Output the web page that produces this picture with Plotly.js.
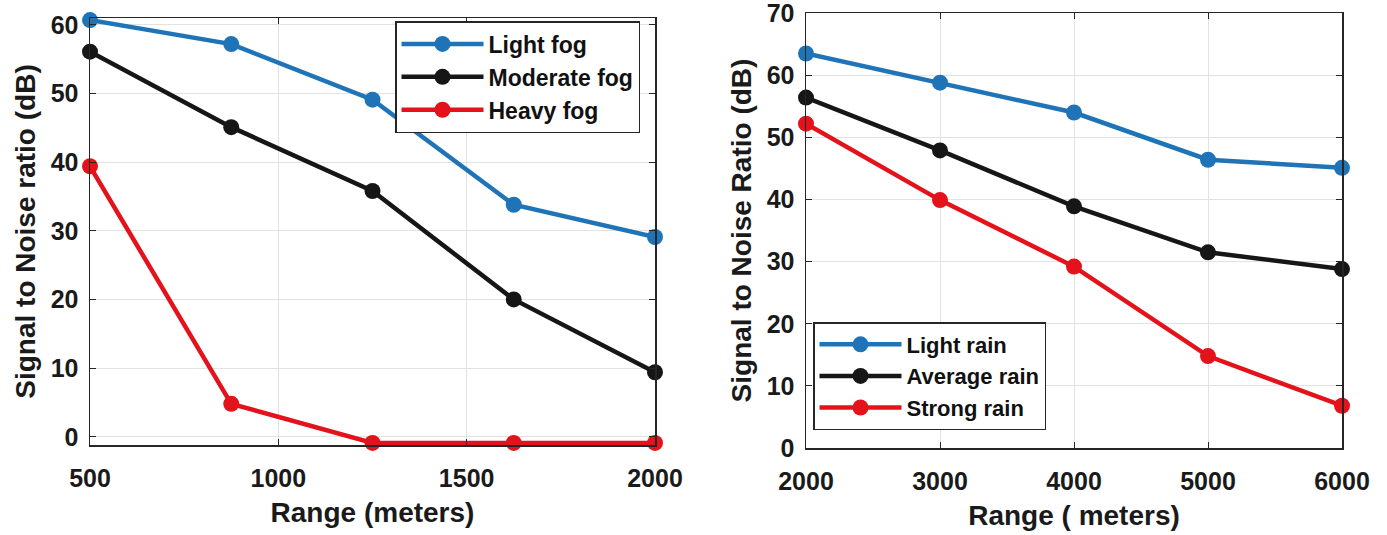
<!DOCTYPE html>
<html>
<head>
<meta charset="utf-8">
<script src="https://cdn.plot.ly/plotly-3.0.1.min.js"></script>
<style>html,body{margin:0;padding:0;background:#fff;}#chart{width:1387px;height:535px;}</style>
</head>
<body>
<div id="chart"></div>
<script>
// Left panel: fog
const fogRange = [500, 875, 1250, 1625, 2000];
const lightFog = [60.7, 57.2, 49.1, 33.8, 29.1];
const moderateFog = [56.1, 45.1, 35.8, 20.0, 9.4];
const heavyFog = [39.4, 4.8, -0.9, -0.9, -0.9];
const fogTicksX = [500, 1000, 1500, 2000];
const fogTicksY = [0, 10, 20, 30, 40, 50, 60];

// Right panel: rain
const rainRange = [2000, 3000, 4000, 5000, 6000];
const lightRain = [63.5, 58.8, 54.0, 46.4, 45.1];
const averageRain = [56.4, 47.9, 38.9, 31.5, 28.8];
const strongRain = [52.2, 39.9, 29.2, 14.8, 6.8];
const rainTicksX = [2000, 3000, 4000, 5000, 6000];
const rainTicksY = [0, 10, 20, 30, 40, 50, 60, 70];

const BLUE = '#1f74b8', BLACK = '#161616', RED = '#e3121b';
const FONT = 'Liberation Sans, Arial, sans-serif';

function tr(x, y, name, color, xa, ya, lg) {
  return {x: x, y: y, name: name, type: 'scatter', mode: 'lines+markers',
    line: {color: color, width: 4.5}, marker: {color: color, size: 16},
    xaxis: xa, yaxis: ya, legend: lg, cliponaxis: false};
}

const data = [
  tr(fogRange, lightFog, 'Light fog', BLUE, 'x', 'y', 'legend'),
  tr(fogRange, moderateFog, 'Moderate fog', BLACK, 'x', 'y', 'legend'),
  tr(fogRange, heavyFog, 'Heavy fog', RED, 'x', 'y', 'legend'),
  tr(rainRange, lightRain, 'Light rain', BLUE, 'x2', 'y2', 'legend2'),
  tr(rainRange, averageRain, 'Average rain', BLACK, 'x2', 'y2', 'legend2'),
  tr(rainRange, strongRain, 'Strong rain', RED, 'x2', 'y2', 'legend2')
];

const W = 1387, H = 535;
function ax(extra) {
  return Object.assign({
    showline: true, mirror: 'ticks', linecolor: '#262626', linewidth: 1.5,
    ticks: 'inside', ticklen: 6, tickcolor: '#262626', tickwidth: 1,
    showgrid: true, gridcolor: '#e2e2e2', gridwidth: 1, zeroline: false,
    automargin: false, ticklabeloverflow: 'allow',
    tickfont: {family: FONT, size: 25, color: '#1a1a1a', weight: 'bold'},
  }, extra);
}
const titleFont = {family: FONT, size: 28, color: '#1a1a1a', weight: 'bold'};

const layout = {
  width: W, height: H,
  margin: {l: 0, r: 0, t: 0, b: 0},
  paper_bgcolor: '#ffffff', plot_bgcolor: '#ffffff',
  showlegend: true,
  xaxis: ax({domain: [90/W, 655/W], range: [500, 2000], tickvals: fogTicksX,
    anchor: 'y', ticklabelstandoff: 10,
    title: {text: 'Range (meters)', font: titleFont, standoff: 12}}),
  yaxis: ax({domain: [1-445/H, 1-18/H], range: [-1.2, 61], tickvals: fogTicksY,
    anchor: 'x', ticklabelstandoff: 5,
    title: {text: 'Signal to Noise ratio (dB)', font: titleFont, standoff: 7}}),
  xaxis2: ax({domain: [806/W, 1342/W], range: [2000, 6000], tickvals: rainTicksX,
    anchor: 'y2', ticklabelstandoff: 10,
    title: {text: 'Range ( meters)', font: titleFont, standoff: 12}}),
  yaxis2: ax({domain: [1-448/H, 1-13/H], range: [0, 70.02], tickvals: rainTicksY,
    anchor: 'x2', ticklabelstandoff: 5,
    title: {text: 'Signal to Noise Ratio (dB)', font: titleFont, standoff: 7}}),
  legend: {x: 395/W, y: 1-21/H, xanchor: 'left', yanchor: 'top',
    bgcolor: '#ffffff', bordercolor: '#262626', borderwidth: 1.5,
    font: {family: FONT, size: 23, color: '#111', weight: 'bold'}, itemwidth: 82,
    tracegroupgap: 0},
  legend2: {x: 813/W, y: 1-322/H, xanchor: 'left', yanchor: 'top',
    bgcolor: '#ffffff', bordercolor: '#262626', borderwidth: 1.5,
    font: {family: FONT, size: 22, color: '#111', weight: 'bold'}, itemwidth: 82,
    tracegroupgap: 0}
};

Plotly.newPlot('chart', data, layout, {displayModeBar: false, staticPlot: true});
</script>
</body>
</html>
